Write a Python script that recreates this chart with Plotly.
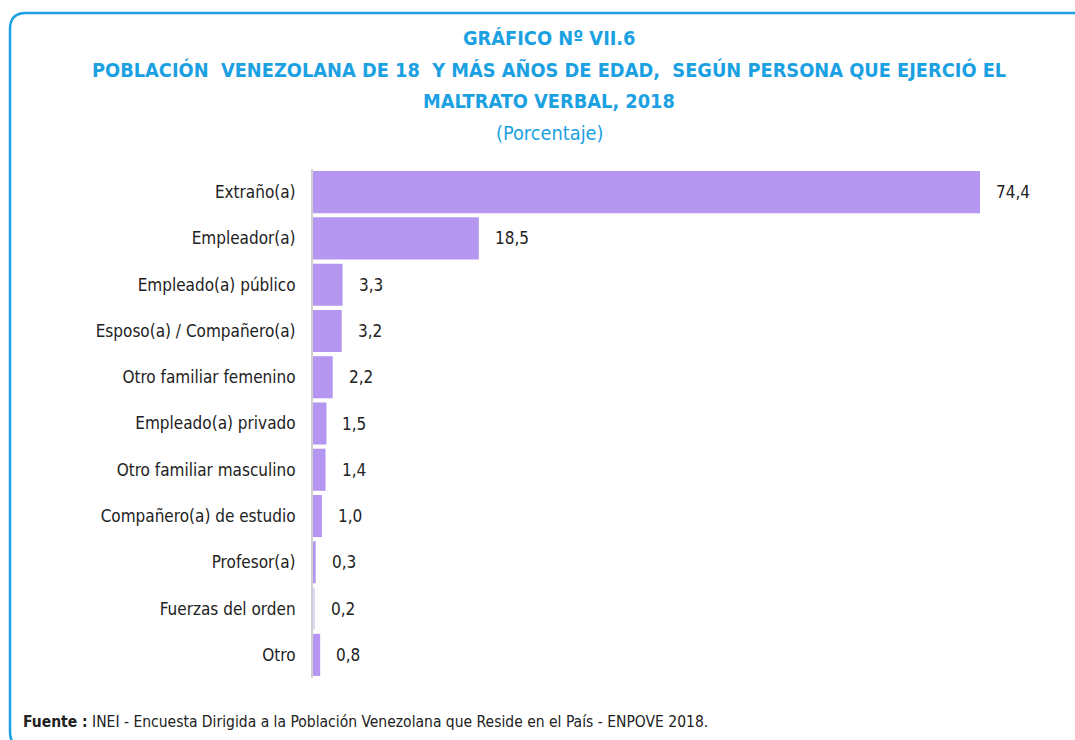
import plotly.graph_objects as go

# Data
categories = [
    "Extraño(a)", "Empleador(a)", "Empleado(a) público", "Esposo(a) / Compañero(a)",
    "Otro familiar femenino", "Empleado(a) privado", "Otro familiar masculino",
    "Compañero(a) de estudio", "Profesor(a)", "Fuerzas del orden", "Otro",
]
values = [74.4, 18.5, 3.3, 3.2, 2.2, 1.5, 1.4, 1.0, 0.3, 0.2, 0.8]
value_labels = ["74,4", "18,5", "3,3", "3,2", "2,2", "1,5", "1,4", "1,0", "0,3", "0,2", "0,8"]

W, H = 1075, 740
ML, MR, MT, MB = 313, 15, 169, 62
PW, PH = W - ML - MR, H - MT - MB

FONT = "Liberation Sans Narrow, Arial Narrow, DejaVu Sans Condensed, sans-serif"
BLUE = "#1BA1E2"
BAR = "#B597F1"


def px(x):
    return (x - ML) / PW


def py(y):
    return 1 - (y - MT) / PH


bar_colors = [BAR] * len(values)
bar_colors[categories.index("Fuerzas del orden")] = "#E2D8F6"

fig = go.Figure()
fig.add_trace(go.Bar(
    y=categories, x=values, orientation="h",
    marker=dict(color=bar_colors, line=dict(width=0)),
    hoverinfo="skip",
))

for cat, v, lab in zip(categories, values, value_labels):
    fig.add_annotation(x=v, y=cat, text=lab, showarrow=False, xanchor="left",
                       xshift=14, font=dict(family=FONT, size=17, color="#222222"))

# Rounded frame around the chart
r = 16
pts = [(1100, 13), (10 + r, 13), (10, 13), (10, 13 + r), (10, 732), (10, 748), (10 + r, 748), (1100, 748)]
path = (f"M {px(pts[0][0])},{py(pts[0][1])} L {px(pts[1][0])},{py(pts[1][1])} "
        f"Q {px(pts[2][0])},{py(pts[2][1])} {px(pts[3][0])},{py(pts[3][1])} "
        f"L {px(pts[4][0])},{py(pts[4][1])} "
        f"Q {px(pts[5][0])},{py(pts[5][1])} {px(pts[6][0])},{py(pts[6][1])} "
        f"L {px(pts[7][0])},{py(pts[7][1])}")
fig.add_shape(type="path", path=path, xref="paper", yref="paper",
              line=dict(color=BLUE, width=2.5), layer="above")

# Title block
titles = [
    ("<b>GRÁFICO Nº VII.6</b>", 38),
    ("<b>POBLACIÓN  VENEZOLANA DE 18  Y MÁS AÑOS DE EDAD,  SEGÚN PERSONA QUE EJERCIÓ EL</b>", 70),
    ("<b>MALTRATO VERBAL, 2018</b>", 101),
    ("(Porcentaje)", 133),
]
for txt, yy in titles:
    fig.add_annotation(x=px(549), y=py(yy), xref="paper", yref="paper", text=txt,
                       showarrow=False, xanchor="center", yanchor="middle",
                       font=dict(family=FONT, size=19.8, color=BLUE))

fig.add_annotation(x=px(21), y=py(722), xref="paper", yref="paper",
                   text="<b>Fuente :</b> INEI - Encuesta Dirigida a la Población Venezolana que Reside en el País - ENPOVE 2018.",
                   showarrow=False, xanchor="left", yanchor="middle",
                   font=dict(family=FONT, size=15.5, color="#222222"))

fig.update_layout(
    width=W, height=H,
    margin=dict(l=ML, r=MR, t=MT, b=MB),
    paper_bgcolor="white", plot_bgcolor="white",
    showlegend=False, bargap=0.09,
    font=dict(family=FONT, color="#222222"),
)
fig.update_xaxes(range=[0, PW / 8.965], visible=False, fixedrange=True)
fig.update_yaxes(categoryorder="array", categoryarray=categories, autorange="reversed",
                 showline=True, linecolor="#D0D0D0", linewidth=2, showgrid=False,
                 ticks="", ticklabelstandoff=12,
                 tickfont=dict(family=FONT, size=17, color="#222222"), fixedrange=True)

fig.write_html("out.html")
